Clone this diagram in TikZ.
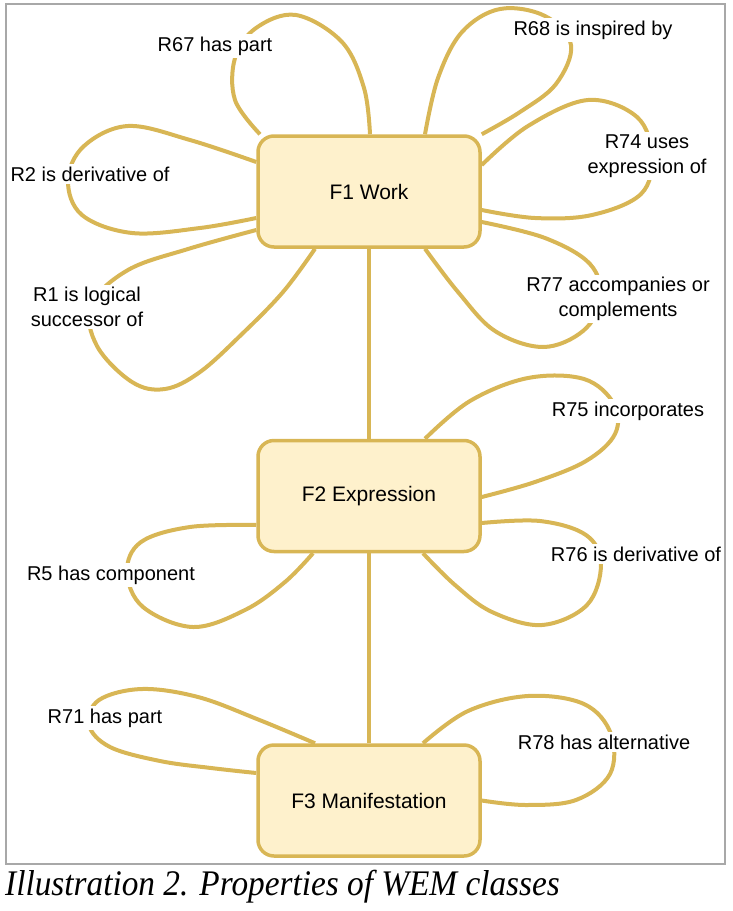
\documentclass[tikz,border=0pt]{standalone}
\usepackage{fontspec}
\setmainfont{Liberation Sans}
\newfontfamily\capfont{Liberation Serif}
\usetikzlibrary{backgrounds,calc}
\definecolor{gold}{HTML}{D8B655}
\definecolor{cream}{HTML}{FEF1CC}
\definecolor{framegray}{HTML}{A8A8A8}
\begin{document}
\begin{tikzpicture}[x=1pt,y=-1pt,
  cls/.style={draw=gold, fill=cream, line width=3.5pt, rounded corners=16pt,
    minimum width=222pt, minimum height=111pt, inner sep=0pt,
    font=\fontsize{21}{25}\selectfont},
  lbl/.style={fill=white, inner sep=2.5pt, align=center,
    font=\fontsize{20}{25}\selectfont},
  rel/.style={draw=gold, line width=4pt},
  frame/.style={draw=framegray, line width=1.2pt}]
\useasboundingbox (0,0) rectangle (733,911);
\draw[frame] (6,4) rectangle (725,864);

% classes
\node[cls] (F1) at (369,191.5) {F1 Work};
\node[cls] (F2) at (369,496) {F2 Expression};
\node[cls] (F3) at (369,800.5) {F3 Manifestation};

% labels
\node[lbl] (r67) at (215,46) {R67 has part};
\node[lbl] (r68) at (593,30) {R68 is inspired by};
\node[lbl] (r74) at (647,156) {R74 uses\\expression of};
\node[lbl] (r77) at (618,299) {R77 accompanies or\\complements};
\node[lbl] (r2) at (90,174) {R2 is derivative of};
\node[lbl] (r1) at (87,307) {R1 is logical\\successor of};
\node[lbl] (r75) at (628,411) {R75 incorporates};
\node[lbl] (r76) at (636,554) {R76 is derivative of};
\node[lbl] (r5) at (111,575) {R5 has component};
\node[lbl] (r71) at (105,718) {R71 has part};
\node[lbl] (r78) at (604,742) {R78 has alternative};

% caption
\node[anchor=base west, inner sep=0pt] (cap) at (5,895)
  {\capfont\itshape\fontsize{36}{40}\selectfont\scalebox{0.925}[1]{Illustration 2. Properties of WEM classes}};

% attachment points
\coordinate (a67) at ($(F1.north)+(1,0)$);
\coordinate (b67) at ($(F1.north)+(-109,0)$);
\coordinate (a68) at ($(F1.north)+(56,0)$);
\coordinate (b68) at (F1.north east);
\coordinate (a74) at ($(F1.east)+(0,-26.5)$);
\coordinate (b74) at ($(F1.east)+(0,18.5)$);
\coordinate (a77) at ($(F1.east)+(0,30.5)$);
\coordinate (b77) at ($(F1.south)+(56,0)$);
\coordinate (a2) at ($(F1.west)+(0,-29.5)$);
\coordinate (b2) at ($(F1.west)+(0,26.5)$);
\coordinate (a1) at ($(F1.west)+(0,38.5)$);
\coordinate (b1) at ($(F1.south)+(-54,0)$);
\coordinate (a75) at ($(F2.north)+(56,0)$);
\coordinate (b75) at ($(F2.east)+(0,1)$);
\coordinate (a76) at ($(F2.east)+(0,27)$);
\coordinate (b76) at ($(F2.south)+(54,0)$);
\coordinate (a5) at ($(F2.west)+(0,29)$);
\coordinate (b5) at ($(F2.south)+(-56,0)$);
\coordinate (a71) at ($(F3.north)+(-54,0)$);
\coordinate (b71) at ($(F3.west)+(0,-27.5)$);
\coordinate (a78) at ($(F3.north)+(54,0)$);
\coordinate (b78) at (F3.east);

\begin{scope}[on background layer]
\draw[rel] (F1.south) -- (F2.north);
\draw[rel] (F2.south) -- (F3.north);
% F1 loops
\draw[rel] plot[smooth, tension=0.6] coordinates {(a67) (364,88) (342,42) (296,15) (256,28) (235,58) (235,100) (b67)};
\draw[rel] plot[smooth, tension=0.6] coordinates {(a68) (438,78) (462,32) (500,9) (545,16) (571,45) (556,84) (520,112) (b68)};
\draw[rel] plot[smooth, tension=0.6] coordinates {(a74) (528,126) (588,100) (637,117) (652,156) (641,194) (592,215) (535,218) (b74)};
\draw[rel] plot[smooth, tension=0.6] coordinates {(a77) (545,238) (590,264) (601,299) (583,331) (543,347) (495,331) (458,292) (b77)};
\draw[rel] plot[smooth, tension=0.6] coordinates {(a2) (190,140) (128,126) (84,146) (68,180) (82,215) (132,233) (200,228) (b2)};
\draw[rel] plot[smooth, tension=0.6] coordinates {(a1) (188,249) (128,270) (91,305) (97,346) (132,382) (165,389) (200,372) (242,334) (283,292) (b1)};
% F2 loops
\draw[rel] plot[smooth, tension=0.6] coordinates {(a75) (470,401) (528,378) (584,379) (614,404) (615,434) (586,461) (535,482) (b75)};
\draw[rel] plot[smooth, tension=0.6] coordinates {(a76) (540,521) (586,535) (601,564) (587,605) (542,625) (492,612) (455,585) (b76)};
\draw[rel] plot[smooth, tension=0.6] coordinates {(a5) (190,527) (141,542) (127,572) (143,607) (193,627) (245,610) (285,582) (b5)};
% F3 loops
\draw[rel] plot[smooth, tension=0.6] coordinates {(a71) (257,719) (198,697) (142,689) (99,700) (89,725) (110,747) (160,761) (211,768) (b71)};
\draw[rel] plot[smooth, tension=0.6] coordinates {(a78) (468,711) (528,696) (584,704) (611,734) (610,774) (576,800) (526,805) (b78)};
\end{scope}
\end{tikzpicture}
\end{document}
